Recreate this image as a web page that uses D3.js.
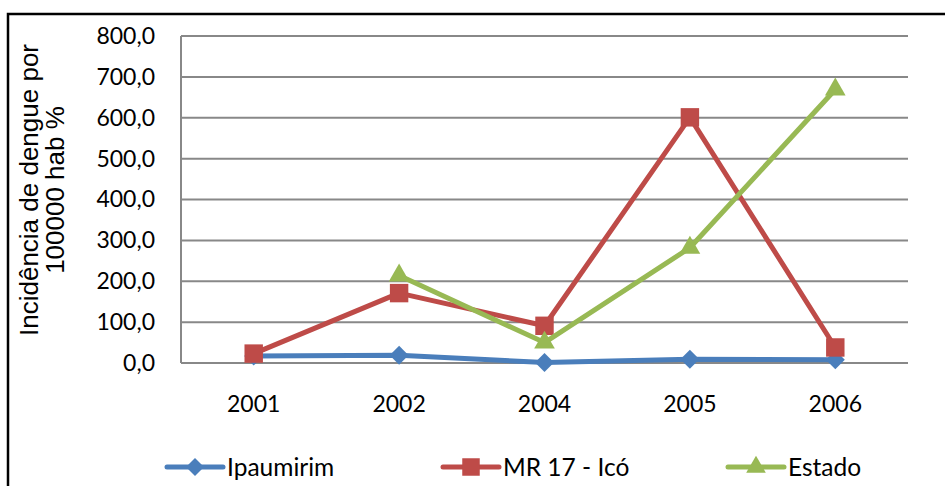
<!DOCTYPE html>
<meta charset="utf-8">
<style>
body { margin: 0; background: #fff; }
.grid line { stroke: #888; stroke-width: 2px; }
.tick text { font-family: Lato, "Open Sans", sans-serif; font-size: 23px; fill: #000; }
.line { fill: none; stroke-width: 5px; stroke-linejoin: round; }
</style>
<body>
<script src="https://d3js.org/d3.v7.min.js"></script>
<script>
// data
var years = ["2001", "2002", "2004", "2005", "2006"];
var ipaumirim = [17, 19, 1, 9, 8];
var mr17 = [23, 171, 91, 601, 38];
var estado = [null, 214, 50, 282, 669];
var yTicks = [0, 100, 200, 300, 400, 500, 600, 700, 800];

var series = [
  {name: "Ipaumirim", values: ipaumirim, color: "#4a7ebb", symbol: d3.symbolSquare, size: 180, rot: 45},
  {name: "MR 17 - Icó", values: mr17, color: "#be4b48", symbol: d3.symbolSquare, size: 340, rot: 0},
  {name: "Estado", values: estado, color: "#98b954", symbol: d3.symbolTriangle, size: 185, rot: 0}
];

var W = 945, H = 486;
var margin = {top: 36, right: 37, bottom: 123, left: 181};
var width = W - margin.left - margin.right,
    height = H - margin.top - margin.bottom;

var svgRoot = d3.select("body").append("svg")
  .attr("width", W).attr("height", H);

// outer frame (right and bottom edges lie outside the picture)
svgRoot.append("rect")
  .attr("x", 8).attr("y", 14).attr("width", 950).attr("height", 500)
  .attr("fill", "none").attr("stroke", "#000").attr("stroke-width", 2.5);

var svg = svgRoot.append("g")
  .attr("transform", "translate(" + margin.left + "," + margin.top + ")");

var x = d3.scaleBand().domain(years).range([0, width]);
var y = d3.scaleLinear().domain([0, 800]).range([height, 0]);

// gridlines
svg.append("g").attr("class", "grid")
  .selectAll("line").data(yTicks).enter().append("line")
  .attr("x1", 0).attr("x2", width)
  .attr("y1", function(d) { return y(d); }).attr("y2", function(d) { return y(d); });

// left axis line
svg.append("line").attr("x1", 0).attr("x2", 0).attr("y1", 0).attr("y2", height)
  .attr("stroke", "#888").attr("stroke-width", 2);

var fmt = function(d) { return d3.format(".1f")(d).replace(".", ","); };

var yAxis = svg.append("g")
  .call(d3.axisLeft(y).tickValues(yTicks).tickFormat(fmt).tickSize(0).tickPadding(26));
yAxis.select(".domain").remove();

var xAxis = svg.append("g")
  .attr("transform", "translate(0," + height + ")")
  .call(d3.axisBottom(x).tickSize(0).tickPadding(33));
xAxis.select(".domain").remove();

// y axis title
var title = svgRoot.append("text")
  .attr("transform", "translate(38,190) rotate(-90)")
  .attr("text-anchor", "middle")
  .style("font-family", "'Liberation Sans', Arial, sans-serif")
  .style("font-size", "26px");
title.append("tspan").attr("x", 0).attr("y", 0).text("Incidência de dengue por");
title.append("tspan").attr("x", 0).attr("y", 26).text("100000 hab %");

var line = d3.line()
  .defined(function(d) { return d != null; })
  .x(function(d, i) { return x(years[i]) + x.bandwidth() / 2; })
  .y(function(d) { return y(d); });

series.forEach(function(s) {
  svg.append("path")
    .datum(s.values)
    .attr("class", "line")
    .attr("stroke", s.color)
    .attr("d", line);

  svg.selectAll(null)
    .data(s.values.map(function(v, i) { return {v: v, i: i}; }).filter(function(d) { return d.v != null; }))
    .enter().append("path")
    .attr("d", d3.symbol().type(s.symbol).size(s.size))
    .attr("fill", s.color)
    .attr("transform", function(d) {
      return "translate(" + (x(years[d.i]) + x.bandwidth() / 2) + "," + y(d.v) + ") rotate(" + s.rot + ")";
    });
});

// legend
var legendX = [167, 443, 728];
var legend = svgRoot.selectAll(".legend").data(series).enter().append("g")
  .attr("class", "legend")
  .attr("transform", function(d, i) { return "translate(" + legendX[i] + ",467)"; });

legend.append("line")
  .attr("x1", 0).attr("x2", 56).attr("y1", 0).attr("y2", 0)
  .attr("stroke", function(d) { return d.color; }).attr("stroke-width", 5)
  .attr("stroke-linecap", "round");
legend.append("path")
  .attr("d", function(d) { return d3.symbol().type(d.symbol).size(d.size * 0.9)(); })
  .attr("fill", function(d) { return d.color; })
  .attr("transform", function(d) { return "translate(28,0) rotate(" + d.rot + ")"; });
legend.append("text")
  .attr("x", 60).attr("y", 0).attr("dy", "0.35em")
  .style("font-family", "Lato, 'Open Sans', sans-serif")
  .style("font-size", "24.5px")
  .text(function(d) { return d.name; });
</script>
</body>
